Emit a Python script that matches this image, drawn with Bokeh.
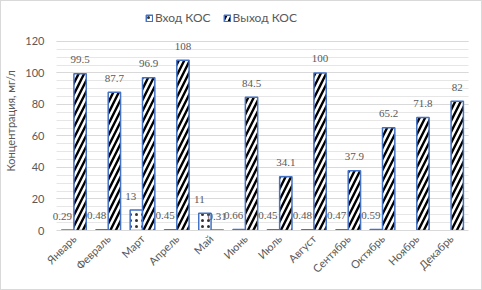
import math
from bokeh.plotting import figure
from bokeh.models import (ColumnDataSource, FixedTicker, SingleIntervalTicker, LabelSet,
                          Legend, LegendItem, Range1d)
from bokeh.transform import dodge
from bokeh.embed import file_html
from bokeh.resources import INLINE

months = ["Январь", "Февраль", "Март", "Апрель", "Май", "Июнь", "Июль",
          "Август", "Сентябрь", "Октябрь", "Ноябрь", "Декабрь"]
inlet = [0.29, 0.48, 13, 0.45, 11, 0.66, 0.45, 0.48, 0.47, 0.59, float("nan"), float("nan")]
outlet = [99.5, 87.7, 96.9, 108, 0.31, 84.5, 34.1, 100, 37.9, 65.2, 71.8, 82]
series_names = ["Вход КОС", "Выход КОС"]
y_label = "Концентрация, мг/л"
y_min, y_max = 0, 120


def fmt(v):
    return "" if (v is None or (isinstance(v, float) and math.isnan(v))) else f"{v:g}"


idx = list(range(len(months)))
src = ColumnDataSource(dict(
    idx=idx, month=months, inlet=inlet, outlet=outlet,
    inlet_lbl=[fmt(v) for v in inlet], outlet_lbl=[fmt(v) for v in outlet],
))

FONT = "Lato"
GRAY = "#595959"
BLUE = "#4472C4"
PAD = 0.3  # extra room left/right of the category area so edge labels are not clipped

# frame extends above the 120 line to leave room for the legend inside the frame
p = figure(x_range=Range1d(-0.5 - PAD, len(months) - 0.5 + PAD), y_range=Range1d(y_min, 139),
           width=482, height=290, output_backend="svg", toolbar_location=None,
           min_border_left=45, min_border_right=5, min_border_top=10, min_border_bottom=61)
p.background_fill_color = "white"
p.border_fill_color = "white"
p.outline_line_color = None
p.styles = {"border": "1px solid #d9d9d9", "box-sizing": "border-box"}

off = 0.18
w = 0.36
r_in = p.vbar(x=dodge("idx", -off), top="inlet", width=w, source=src,
              fill_color="white", line_color=BLUE, line_width=1.5,
              hatch_pattern="dot", hatch_color="black", hatch_scale=6, hatch_weight=0.5,
              hatch_alpha=0.8)
r_out = p.vbar(x=dodge("idx", off), top="outlet", width=w, source=src,
               fill_color="white", line_color=BLUE, line_width=1.5,
               hatch_pattern="/", hatch_color="black", hatch_scale=11, hatch_weight=2.4)

lbl_in = LabelSet(x=dodge("idx", -off - 0.16), y="inlet", text="inlet_lbl",
                  source=src, y_offset=14, text_align="center", text_baseline="middle",
                  text_font=FONT, text_font_size="11px", text_color=GRAY)
lbl_out = LabelSet(x=dodge("idx", off), y="outlet", text="outlet_lbl",
                   source=src, y_offset=14, text_align="center", text_baseline="middle",
                   text_font=FONT, text_font_size="11px", text_color=GRAY)
p.add_layout(lbl_in)
p.add_layout(lbl_out)

ticker = SingleIntervalTicker(interval=20, num_minor_ticks=4)
p.yaxis.ticker = ticker
p.ygrid.ticker = ticker
p.ygrid.bounds = (y_min, y_max)
p.ygrid.cross_bounds = (-0.5, len(months) - 0.5)
p.yaxis.bounds = (y_min, y_max)
p.ygrid.grid_line_color = "#d9d9d9"
p.ygrid.minor_grid_line_color = "#e6e6e6"
p.xgrid.grid_line_color = None

p.yaxis.axis_line_color = None
p.yaxis.major_tick_line_color = None
p.yaxis.minor_tick_line_color = None
p.yaxis.major_tick_out = 0
p.yaxis.minor_tick_out = 0
p.yaxis.major_label_text_font = FONT
p.yaxis.major_label_text_font_size = "11px"
p.yaxis.major_label_text_color = GRAY
p.yaxis.major_label_standoff = 2
p.yaxis.axis_label = y_label
p.yaxis.axis_label_text_font = FONT
p.yaxis.axis_label_text_font_size = "11px"
p.yaxis.axis_label_text_font_style = "normal"
p.yaxis.axis_label_text_color = GRAY
p.yaxis.axis_label_standoff = 5

p.xaxis.ticker = FixedTicker(ticks=idx)
p.xaxis.major_label_overrides = {i: m for i, m in zip(idx, months)}
p.xaxis.bounds = (-0.5, len(months) - 0.5)
p.xaxis.axis_line_color = "#d9d9d9"
p.xaxis.major_tick_line_color = None
p.xaxis.minor_tick_line_color = None
p.xaxis.major_tick_out = 0
p.xaxis.minor_tick_out = 0
p.xaxis.major_label_orientation = math.pi / 4
p.xaxis.major_label_text_font = FONT
p.xaxis.major_label_text_font_size = "11px"
p.xaxis.major_label_text_color = GRAY
p.xaxis.major_label_standoff = 6

legend = Legend(items=[LegendItem(label=series_names[0], renderers=[r_in]),
                       LegendItem(label=series_names[1], renderers=[r_out])],
                orientation="horizontal", location=(99, 205),
                glyph_width=8, glyph_height=8, label_standoff=2, spacing=12,
                padding=0, margin=0, border_line_color=None, background_fill_alpha=0,
                label_text_font=FONT, label_text_font_size="12px", label_text_color=GRAY)
p.add_layout(legend, "center")

open("out.html", "w").write(file_html(p, INLINE))
